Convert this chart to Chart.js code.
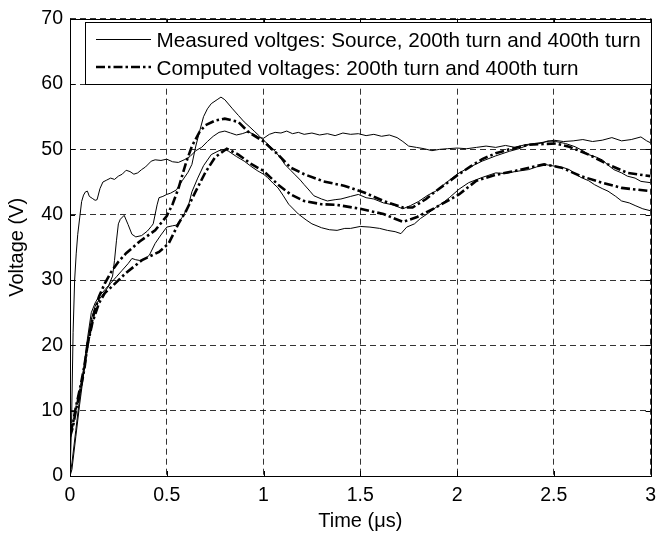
<!DOCTYPE html>
<html>
<head>
<meta charset="utf-8">
<script src="https://cdn.jsdelivr.net/npm/chart.js@4.4.1/dist/chart.umd.min.js"></script>
<style>
html,body{margin:0;padding:0;background:#fff;}
#c{display:block;}
</style>
</head>
<body>
<canvas id="c" width="664" height="535"></canvas>
<script>
// ---- Data ----
const xTicks = [0, 0.5, 1, 1.5, 2, 2.5, 3];
const yTicks = [0, 10, 20, 30, 40, 50, 60, 70];
const legendLabels = [
  "Measured voltges: Source, 200th turn and 400th turn",
  "Computed voltages: 200th turn and 400th turn"
];
const xTitle = "Time (\u03bcs)";
const yTitle = "Voltage (V)";

// Measured source voltage
const srcT = [0,0.008,0.016,0.024,0.032,0.04,0.05,0.06,0.07,0.08,0.09,0.1,0.115,0.13,0.14,0.155,0.17,0.19,0.21,0.23,0.25,0.27,0.29,0.31,0.33,0.35,0.37,0.39,0.42,0.44,0.47,0.5,0.53,0.56,0.59,0.62,0.65,0.68,0.71,0.74,0.77,0.8,0.83,0.86,0.89,0.92,0.95,0.98,1.0,1.03,1.06,1.09,1.12,1.15,1.18,1.21,1.25,1.29,1.33,1.37,1.41,1.45,1.49,1.53,1.57,1.61,1.65,1.69,1.72,1.75,1.79,1.83,1.87,1.91,1.95,2.0,2.05,2.1,2.15,2.2,2.25,2.3,2.35,2.4,2.45,2.5,2.55,2.6,2.65,2.7,2.75,2.8,2.85,2.9,2.95,2.98,3.0];
const srcV = [0,8,22,30,34,37,39.5,42,43,43.5,43.6,42.8,42.5,42.2,42.3,44,45,45.3,45.6,45.4,45.9,46.2,46.8,46.6,46.2,46.4,46.9,47.3,48.2,48.4,48.3,48.5,48.1,48,48.4,48.9,49.8,50.3,51.2,52,52.6,52.8,52.5,52.2,52.4,52.7,52.3,51.8,51.7,52.3,52.6,52.5,52.8,52.4,52.6,52.3,52.5,52.2,52.4,52.1,52.5,52.3,52.4,52.1,52.3,52,52.2,51.8,51.2,50.5,50.3,50.1,49.8,50,50.1,50.2,50.1,50.3,50.5,50.3,50.6,50.3,50.7,50.9,51.1,51.4,51.2,51.3,51.5,51.2,51.4,51.8,51.3,51.5,51.9,51.3,51];

// Measured 200th turn
const m200T = [0,0.01,0.03,0.05,0.07,0.09,0.11,0.13,0.15,0.18,0.2,0.22,0.23,0.24,0.25,0.26,0.28,0.3,0.32,0.34,0.37,0.4,0.42,0.43,0.45,0.46,0.48,0.5,0.52,0.55,0.58,0.61,0.63,0.65,0.67,0.69,0.71,0.73,0.76,0.78,0.8,0.84,0.87,0.9,0.93,0.955,0.98,1.0,1.03,1.06,1.09,1.11,1.14,1.16,1.19,1.21,1.24,1.26,1.3,1.33,1.37,1.4,1.45,1.49,1.53,1.57,1.62,1.67,1.72,1.76,1.8,1.85,1.89,1.94,2.0,2.06,2.13,2.2,2.27,2.32,2.37,2.43,2.47,2.51,2.56,2.61,2.65,2.68,2.72,2.75,2.78,2.81,2.85,2.88,2.92,2.95,3.0];
const m200V = [0,2,7,12,16,21,25,26.5,27.5,28.5,29.2,30.6,33,36,38.6,39.3,39.9,38.5,37,36.6,36.8,37.5,38.2,38.6,41.5,42.6,42.8,43.1,43.3,43.8,45.2,46.5,47.7,50.5,52.8,55,56.2,57,57.6,58,57.6,56.2,55.2,54.2,53.4,52.7,52,51.4,50.6,49.7,48.6,47.7,46.8,46.2,45.3,44.6,43.6,42.9,42.4,42.1,42.3,42.4,42.8,43.1,42.6,42.4,41.8,41.5,40.9,41.4,42,43,43.6,44.8,46.2,47.2,48.2,49,49.7,50.1,50.7,50.9,51.3,51.2,50.9,50.4,49.8,49.2,48.8,48.4,47.6,46.9,46.4,45.9,45.6,45.1,44.9];

// Measured 400th turn
const m400T = [0,0.01,0.03,0.05,0.07,0.09,0.11,0.13,0.15,0.18,0.21,0.24,0.27,0.3,0.32,0.34,0.36,0.39,0.41,0.44,0.47,0.5,0.53,0.55,0.58,0.61,0.63,0.66,0.69,0.73,0.77,0.8,0.82,0.86,0.9,0.94,0.97,1.0,1.02,1.05,1.075,1.1,1.13,1.18,1.22,1.25,1.3,1.34,1.38,1.42,1.45,1.5,1.55,1.6,1.64,1.68,1.71,1.74,1.78,1.81,1.85,1.89,1.93,1.96,2.01,2.06,2.13,2.2,2.25,2.3,2.37,2.41,2.45,2.51,2.55,2.58,2.64,2.68,2.71,2.75,2.78,2.82,2.85,2.89,2.92,2.96,3.0];
const m400V = [0,1,6,11,15.5,20,24,26,27,28.2,29.5,30.5,31.5,32.5,33.3,33.1,33,33.3,33.8,35.6,36.9,38.1,38.3,38.4,39.6,41.2,43.5,45.6,47.5,49.2,49.8,50,49.7,48.9,48.2,47.3,46.7,46.2,45.7,44.8,44.1,43,41.6,40.1,39.2,38.6,38,37.7,37.6,37.9,37.9,38.2,38.1,37.9,37.6,37.4,37.1,38.1,38.6,39.4,40.2,41.1,41.9,42.6,43.9,44.9,45.7,46.4,46.3,46.6,46.9,47.3,47.7,47.4,47.2,46.9,45.7,45.2,44.6,44,43.6,42.8,42.1,41.8,41.4,40.9,40.6];

// Computed 200th turn
const c200T = [0,0.015,0.03,0.056,0.075,0.09,0.116,0.15,0.18,0.21,0.25,0.29,0.36,0.44,0.5,0.53,0.56,0.6,0.63,0.67,0.7,0.75,0.8,0.87,0.92,1.0,1.075,1.14,1.21,1.31,1.42,1.52,1.62,1.72,1.77,1.84,1.89,1.95,2.01,2.07,2.13,2.2,2.27,2.37,2.51,2.58,2.68,2.78,2.88,3.0];
const c200V = [6,7.5,10,13.5,16.5,20,24,27.5,29.5,31.1,32.8,34.1,35.9,37.6,39.8,41.6,44,48,50.5,52.7,53.7,54.4,54.7,54.2,52.7,51.2,49.2,47.2,46.2,45.1,44.4,43.4,42.1,41.1,41.1,42.4,43.6,44.9,46.2,47.4,48.5,49.4,50,50.7,50.9,50.4,49.2,47.7,46.4,45.9];

// Computed 400th turn
const c400T = [0,0.015,0.03,0.056,0.075,0.09,0.116,0.15,0.18,0.22,0.29,0.375,0.46,0.51,0.56,0.6,0.65,0.7,0.75,0.81,0.87,0.94,1.0,1.075,1.14,1.21,1.3,1.38,1.5,1.62,1.72,1.79,1.89,2.01,2.1,2.2,2.3,2.45,2.54,2.64,2.75,2.85,3.0];
const c400V = [6.5,8,10.5,14,17,20,23.5,26.5,28,29.1,31.1,33.1,34.3,35.6,38.6,40.6,43.6,46.5,48.8,50.1,49.2,47.7,46.7,44.6,43.1,42.1,41.6,41.5,40.9,40.1,38.9,39.6,41.1,43.1,45.2,46.1,46.7,47.7,47.2,45.9,44.9,44.1,43.6];

function pts(ts, vs){ return ts.map((t,i)=>({x:t, y:vs[i]})); }

const DASHDOT = [9,3,2.5,3];
const FONT = "'Liberation Sans', Arial, sans-serif";

const thin = {borderColor:'#000', borderWidth:1, pointRadius:0, showLine:true, fill:false, tension:0};
const thick = {borderColor:'#000', borderWidth:2.6, borderDash:DASHDOT, pointRadius:0, showLine:true, fill:false, tension:0};

const framePlugin = {
  id:'frame',
  afterDatasetsDraw(chart){
    const {ctx, chartArea:a, scales} = chart;
    ctx.save();
    ctx.setLineDash([]);
    ctx.strokeStyle='#000';
    ctx.lineWidth=1;
    // inward ticks
    ctx.beginPath();
    xTicks.forEach(v=>{
      const x=Math.round(scales.x.getPixelForValue(v))+0.5;
      ctx.moveTo(x,a.bottom); ctx.lineTo(x,a.bottom-5);
      ctx.moveTo(x,a.top); ctx.lineTo(x,a.top+5);
    });
    yTicks.forEach(v=>{
      const y=Math.round(scales.y.getPixelForValue(v))+0.5;
      ctx.moveTo(a.left,y); ctx.lineTo(a.left+5,y);
      ctx.moveTo(a.right,y); ctx.lineTo(a.right-5,y);
    });
    ctx.stroke();
    ctx.strokeRect(Math.round(a.left)+0.5, Math.round(a.top)+0.5, Math.round(a.right-a.left), Math.round(a.bottom-a.top));
    // legend box
    const bx=85.5, by=22.5, bw=566, bh=62;
    ctx.fillStyle='#fff';
    ctx.fillRect(bx,by,bw,bh);
    ctx.strokeRect(bx,by,bw,bh);
    ctx.beginPath();
    ctx.lineWidth=1;
    ctx.moveTo(96,39.5); ctx.lineTo(151,39.5);
    ctx.stroke();
    ctx.beginPath();
    ctx.lineWidth=2.6;
    ctx.setLineDash(DASHDOT);
    ctx.moveTo(96,67); ctx.lineTo(151,67);
    ctx.stroke();
    ctx.setLineDash([]);
    ctx.fillStyle='#000';
    ctx.font = "20.7px " + FONT;
    ctx.textAlign='left';
    ctx.textBaseline='alphabetic';
    ctx.fillText(legendLabels[0], 156.5, 46.5);
    ctx.fillText(legendLabels[1], 156.5, 74.5);
    ctx.restore();
  }
};

new Chart(document.getElementById('c'), {
  type:'scatter',
  data:{
    datasets:[
      Object.assign({label:'Measured source', data:pts(srcT,srcV)}, thin),
      Object.assign({label:'Measured 200th turn', data:pts(m200T,m200V)}, thin),
      Object.assign({label:'Measured 400th turn', data:pts(m400T,m400V)}, thin),
      Object.assign({label:'Computed 200th turn', data:pts(c200T,c200V)}, thick),
      Object.assign({label:'Computed 400th turn', data:pts(c400T,c400V)}, thick)
    ]
  },
  options:{
    responsive:false,
    animation:false,
    devicePixelRatio:1,
    layout:{padding:{top:12, right:7, left:0, bottom:0}},
    plugins:{legend:{display:false}, tooltip:{enabled:false}},
    scales:{
      x:{
        type:'linear', min:0, max:3,
        afterFit(s){ s.height = 59; },
        afterBuildTicks(s){ s.ticks = xTicks.map(v=>({value:v})); },
        ticks:{color:'#000', font:{family:FONT, size:19.5}, padding:8, maxRotation:0, autoSkip:false,
          callback:(v)=>String(v)},
        grid:{color:'rgba(0,0,0,0.8)', lineWidth:1, drawTicks:false},
        border:{display:false, dash:[6,4]},
        title:{display:true, text:xTitle, color:'#000', font:{family:FONT, size:20}, padding:{top:0,bottom:2}}
      },
      y:{
        type:'linear', min:0, max:70,
        afterFit(s){ s.width = 70; },
        afterBuildTicks(s){ s.ticks = yTicks.map(v=>({value:v})); },
        ticks:{color:'#000', font:{family:FONT, size:19.5}, padding:7, autoSkip:false,
          callback:(v)=>String(v)},
        grid:{color:'rgba(0,0,0,0.8)', lineWidth:1, drawTicks:false},
        border:{display:false, dash:[6,4]},
        title:{display:true, text:yTitle, color:'#000', font:{family:FONT, size:20}, padding:{top:5,bottom:0}}
      }
    }
  },
  plugins:[framePlugin]
});
</script>
</body>
</html>
